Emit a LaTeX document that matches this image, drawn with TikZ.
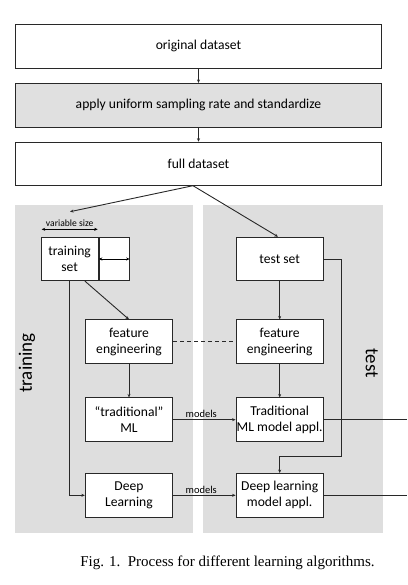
\documentclass[tikz,border=0pt]{standalone}
\usepackage{fontspec}
\setmainfont{Carlito}
\newfontfamily\capfont{Liberation Serif}
\usetikzlibrary{arrows.meta}
\definecolor{panelgray}{RGB}{222,222,222}
\definecolor{boxgray}{RGB}{224,224,224}
\definecolor{linegray}{RGB}{40,40,40}
\tikzset{
  box/.style={draw=linegray, line width=0.9pt, fill=white, inner sep=0pt, align=center,
    font=\fontsize{13.6}{16}\selectfont},
  wide/.style={box, minimum width=366.7pt, minimum height=43.6pt},
  small/.style={box, minimum width=87.4pt, minimum height=43.6pt},
  arr/.style={draw=linegray, line width=0.9pt, -{Stealth[length=3.5pt,width=3pt]}},
  dbl/.style={draw=black, line width=0.8pt, {Stealth[length=3.5pt,width=3pt]}-{Stealth[length=3.5pt,width=3pt]}},
  conn/.style={draw=linegray, line width=0.9pt},
  panel/.style={fill=panelgray, draw=none},
  lbl/.style={font=\fontsize{10.5}{12}\selectfont, inner sep=1.5pt},
  side/.style={font=\fontsize{19}{21}\selectfont, inner sep=0pt}
}
\begin{document}
\begin{tikzpicture}[x=1pt,y=-1pt]
\useasboundingbox (0,0) rectangle (407,585);
% panels
\fill[panel] (15,205) rectangle (192.7,533);
\fill[panel] (203.3,205) rectangle (382.7,533);
% top boxes
\node[wide] (orig) at (198.5,46.3) {original dataset};
\node[wide, fill=boxgray] (apply) at (198.5,105.2) {apply uniform sampling rate and standardize};
\node[wide] (full) at (198.5,164) {full dataset};
\draw[arr] (orig.south) -- (apply.north);
\draw[arr] (apply.south) -- (full.north);
% training side
\node[box, minimum width=57.3pt, minimum height=43.4pt] (trainset) at (69.65,259) {training\\set};
\node[box, minimum width=30pt, minimum height=43.4pt, anchor=west] (trainext) at (trainset.east) {};
\draw[dbl] (trainext.west) -- (trainext.east);
\coordinate (vsl) at (41.7,229.3);
\coordinate (vsr) at (97.7,229.3);
\draw[dbl] (vsl) -- (vsr);
\node[lbl, font=\fontsize{9.6}{11}\selectfont, anchor=south] (vs) at (69.7,227.8) {variable size};
\node[small] (fe1) at (129,341.7) {feature\\engineering};
\node[small] (trad) at (129,419.7) {“traditional”\\ML};
\node[small] (dl) at (129,495.3) {Deep\\Learning};
% test side
\node[small] (testset) at (279.7,259) {test set};
\node[small] (fe2) at (279.7,341.7) {feature\\engineering};
\node[small] (tradappl) at (279.7,419.7) {Traditional\\ML model appl.};
\node[small] (dlappl) at (279.7,495.3) {Deep learning\\model appl.};
% split arrows
\coordinate (fsplit) at (193,185.7);
\coordinate (trainin) at (70,211.7);
\draw[arr] (fsplit) -- (trainin);
\draw[arr] (fsplit) -- ([xshift=-1.7pt]testset.north);
% training connections
\draw[arr] (trainset.south) |- (dl.west);
\draw[arr] ([xshift=15.3pt]trainset.south) -- (fe1.north);
\draw[arr] (fe1.south) -- (trad.north);
\draw[conn, dashed, dash pattern=on 4pt off 3pt] (fe1.east) -- (fe2.west);
% test connections
\draw[arr] (testset.south) -- (fe2.north);
\draw[arr] (fe2.south) -- (tradappl.north);
\coordinate (tturn) at (341.7,456.7);
\draw[arr] (testset.east) -| (tturn) -| (dlappl.north);
% models
\draw[arr] (trad.east) -- node[lbl, above, pos=0.45] (m1) {models} (tradappl.west);
\draw[arr] (dl.east) -- node[lbl, above, pos=0.45] (m2) {models} (dlappl.west);
\coordinate (out1) at (407,419.7);
\coordinate (out2) at (407,495.3);
\draw[conn] (tradappl.east) -- (out1);
\draw[conn] (dlappl.east) -- (out2);
% side labels
\node[side, rotate=90] (trlbl) at (27,363) {training};
\node[side, rotate=-90] (telbl) at (371.7,363) {test};
% caption
\node[font=\capfont\fontsize{15}{17}\selectfont, inner sep=0pt] (cap) at (227.5,563) {Fig. 1.\ \ Process for different learning algorithms.};
\end{tikzpicture}
\end{document}
